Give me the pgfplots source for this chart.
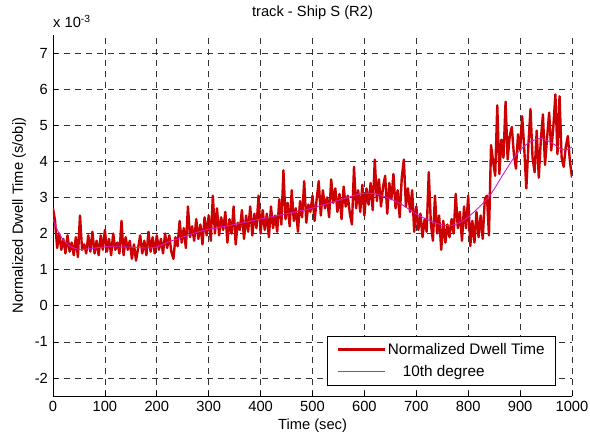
\documentclass[border=0pt]{standalone}
\usepackage{pgfplots}
\pgfplotsset{compat=1.18}
\usepackage{fontspec}
\setmainfont{Liberation Sans}
\definecolor{dwred}{RGB}{204,0,0}
\definecolor{fitmag}{RGB}{205,30,205}
\pgfplotstableread{
x y
0 2.70
4 2.35
8 1.60
12 2.00
16 1.55
20 1.85
24 1.45
28 1.95
32 1.50
36 1.75
40 1.40
44 1.90
48 1.35
52 2.50
56 1.55
60 1.70
64 1.45
68 1.95
72 1.50
76 2.05
80 1.45
84 1.80
88 1.40
92 1.95
96 1.55
100 2.10
104 1.50
108 1.85
112 1.40
116 2.00
120 1.55
124 1.75
128 1.45
132 2.35
136 1.40
140 1.90
144 1.55
148 1.80
152 1.30
156 1.70
160 1.25
164 1.60
168 1.95
172 1.45
176 1.80
180 1.40
184 2.05
188 1.50
192 1.90
196 1.45
200 1.95
204 1.55
208 1.85
212 1.45
216 2.00
220 1.60
224 1.95
228 1.50
232 1.30
236 1.90
240 1.65
244 2.35
248 1.75
252 2.15
256 1.60
260 2.75
264 1.90
268 2.20
272 1.80
276 2.40
280 1.85
284 2.25
288 1.70
292 2.45
296 1.95
300 2.50
304 1.80
308 3.05
312 2.00
316 2.70
320 1.95
324 2.45
328 2.10
332 2.60
336 1.75
340 2.40
344 2.00
348 2.75
352 1.70
356 2.30
360 2.10
364 2.65
368 1.85
372 2.50
376 2.05
380 2.75
384 1.95
388 2.55
392 2.15
396 3.05
400 2.00
404 2.65
408 2.10
412 2.55
416 1.90
420 2.75
424 2.15
428 2.50
432 2.05
436 2.95
440 2.25
444 3.75
448 2.40
452 2.85
456 2.20
460 3.20
464 2.35
468 2.70
472 2.05
476 2.90
480 2.45
484 3.45
488 2.30
492 2.80
496 2.60
500 3.05
504 2.35
508 2.95
512 3.45
516 2.50
520 3.20
524 2.70
528 3.00
532 2.45
536 3.50
540 2.85
544 3.25
548 2.60
552 3.10
556 2.40
560 3.30
564 2.75
568 3.05
572 2.55
576 2.25
580 3.85
584 2.70
588 3.20
592 2.60
596 3.35
600 2.50
604 3.25
608 2.80
612 3.40
616 2.65
620 4.05
624 2.90
628 3.50
632 2.75
636 3.30
640 3.60
644 2.55
648 3.40
652 2.95
656 3.65
660 2.70
664 3.20
668 2.45
672 3.55
676 4.05
680 2.75
684 3.25
688 2.60
692 3.20
696 2.05
700 2.75
704 2.10
708 2.55
712 1.90
716 2.40
720 2.05
724 3.70
728 2.30
732 1.80
736 3.05
740 2.00
744 2.50
748 1.55
752 2.35
756 1.75
760 2.25
764 1.90
768 2.40
772 2.00
776 3.10
780 2.15
784 2.60
788 1.80
792 2.75
796 2.15
800 3.05
804 1.65
808 2.35
812 1.75
816 2.60
820 1.90
824 2.50
828 1.85
832 2.95
836 3.05
840 1.95
844 4.45
848 4.00
852 3.60
856 5.55
860 3.65
864 4.60
868 4.10
872 5.65
876 4.05
880 4.70
884 4.95
888 4.20
892 3.80
896 4.75
900 4.30
904 5.25
908 4.35
912 3.25
916 4.45
920 5.45
924 4.10
928 3.70
932 4.85
936 3.55
940 4.60
944 5.30
948 3.90
952 4.65
956 5.35
960 4.30
964 4.95
968 5.85
972 4.20
976 5.80
980 4.10
984 3.85
988 4.40
992 4.70
996 4.00
1000 3.55
}\dwell
\pgfplotstableread{
x y
0 2.40
10 2.05
20 1.82
30 1.68
40 1.60
52 1.56
70 1.58
100 1.63
140 1.63
180 1.60
200 1.63
219 1.75
250 1.90
283 2.06
300 2.12
350 2.25
399 2.40
450 2.55
495 2.69
550 2.92
592 3.10
617 3.11
640 3.02
669 2.83
704 2.51
740 2.28
765 2.22
790 2.35
815 2.65
842 3.06
870 3.70
893 4.20
915 4.50
938 4.63
960 4.52
980 4.33
990 4.32
1000 4.40
}\fit
\begin{document}
\fontsize{14.7}{17}\selectfont
\begin{tikzpicture}
\path[use as bounding box] (-53pt,-45pt) rectangle (537pt,396pt);
\begin{axis}[
  at={(0pt,0pt)}, anchor=south west,
  scale only axis, width=519pt, height=361pt,
  xmin=0, xmax=1000, ymin=-2.5, ymax=7.5,
  axis x line=bottom, axis y line=left,
  axis line style={-, black, line width=0.6pt},
  xtick={0,100,...,1000}, ytick={-2,-1,...,7},
  tick align=inside, major tick length=5pt,
  tick style={black, line width=0.6pt},
  grid=major,
  major grid style={black!80, line width=0.6pt, dash pattern=on 6pt off 5pt},
  /pgf/number format/assume math mode=true,
  /pgf/number format/1000 sep={},
  ticklabel style={font=\fontsize{14.7}{17}\selectfont},
  label style={font=\fontsize{14.7}{17}\selectfont},
  title style={font=\fontsize{14.7}{17}\selectfont, yshift=4pt},
  title={track - Ship S (R2)},
  xlabel={Time (sec)}, ylabel={Normalized Dwell Time (s/obj)},
  xlabel style={yshift=3pt},
  ylabel style={yshift=-1pt},
  legend style={at={(rel axis cs:0.969,0.028)}, anchor=south east, draw=black, line width=0.6pt, fill=white,
    font=\fontsize{15.3}{17}\selectfont, row sep=5pt, inner xsep=9pt, inner ysep=5pt},
  legend cell align=left,
  legend image code/.code={\draw[#1] (0pt,0pt) -- (47pt,0pt);},
]
\addplot[dwred, line width=2.4pt, line join=round] table[x=x,y=y] {\dwell};
\addlegendentry{Normalized Dwell Time}
\addplot[fitmag, line width=0.9pt, smooth] table[x=x,y=y] {\fit};
\addlegendentry{\hspace{15pt}10th degree}
\end{axis}
\node[anchor=south west, inner sep=0pt] at (0pt,368pt) {x 10\textsuperscript{-3}};
\end{tikzpicture}
\end{document}
